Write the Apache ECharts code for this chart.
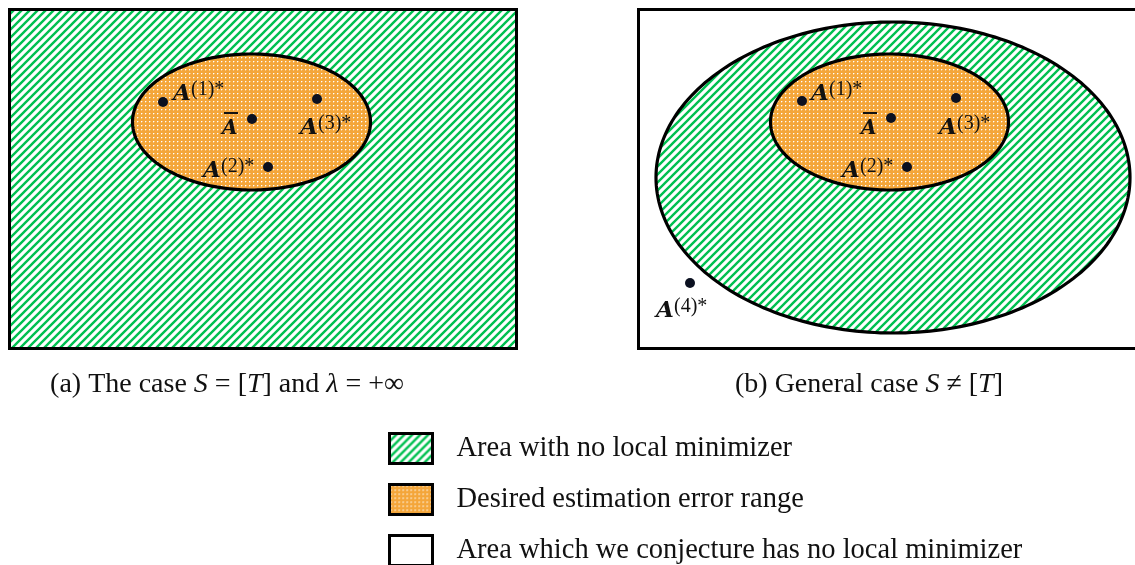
<!DOCTYPE html>
<html><head><meta charset="utf-8">
<script src="https://cdn.jsdelivr.net/npm/echarts@6/dist/echarts.min.js"></script>
<style>html,body{margin:0;padding:0;background:#fff}#c{width:1135px;height:565px}</style>
</head><body><div id="c"></div>
<script>
// ---- data (diagram coordinates, same units as the hidden axes) ----
// rectangles: [x0, y0, x1, y1]
const hatchBoxes = [[9.5, 9.5, 516.5, 348.5]];
const whiteBoxes = [[638.5, 9.5, 1142, 348.5]];
// ellipses: [cx, cy, rx, ry]
const hatchEllipses = [[893, 177.5, 237, 155.5]];
const orangeEllipses = [[251.5, 122, 119, 68], [889.5, 122, 119, 68]];
// points
const pointsX = [163, 252, 317, 268, 802, 891, 956, 907, 690];
const pointsY = [102, 119, 99, 167, 101, 118, 98, 167, 283];
// point labels: x (left of A), y (baseline), superscript, has bar
const labelX = [173, 222, 300, 203, 811, 861, 939, 842, 656];
const labelY = [102, 136, 136, 179, 102, 136, 136, 179, 319];
const labelSup = ['(1)*', '', '(3)*', '(2)*', '(1)*', '', '(3)*', '(2)*', '(4)*'];
const labelBar = [false, true, false, false, false, true, false, false, false];
// captions
const captionText = ['(a) The case {i|S} = [{i|T}] and {i|λ} = +∞', '(b) General case {i|S} ≠ [{i|T}]'];
const captionX = [227, 869];
const captionY = [393, 393];
// legend
const legendNames = ['Area with no local minimizer', 'Desired estimation error range', 'Area which we conjecture has no local minimizer'];

// ---- patterns ----
function makeHatch() {
  const c = document.createElement('canvas'); c.width = 8; c.height = 8;
  const g = c.getContext('2d');
  g.fillStyle = '#ffffff'; g.fillRect(0, 0, 8, 8);
  g.strokeStyle = '#00C050'; g.lineWidth = 2.4;
  g.beginPath();
  g.moveTo(-2, 2); g.lineTo(2, -2);
  g.moveTo(-1, 9); g.lineTo(9, -1);
  g.moveTo(6, 10); g.lineTo(10, 6);
  g.stroke();
  return c;
}
function makeDots() {
  const c = document.createElement('canvas'); c.width = 4; c.height = 4;
  const g = c.getContext('2d');
  g.fillStyle = '#F4A63A'; g.fillRect(0, 0, 4, 4);
  g.fillStyle = '#ffffff'; g.fillRect(1, 1, 1, 1);
  g.fillStyle = 'rgba(255,255,255,0.35)'; g.fillRect(2, 1, 1, 1); g.fillRect(1, 2, 1, 1);
  return c;
}
const hatchFill = { image: makeHatch(), repeat: 'repeat' };
const dotFill = { image: makeDots(), repeat: 'repeat' };

const SERIF = '"Liberation Serif", "DejaVu Serif", serif';
const MATH = '"DejaVu Serif", "Liberation Serif", serif';

function ellipsePoints(c, s) {
  const pts = [];
  for (let i = 0; i < 240; i++) {
    const t = i / 240 * Math.PI * 2;
    pts.push([c[0] + s[0] * Math.cos(t), c[1] + s[1] * Math.sin(t)]);
  }
  return pts;
}
function rectItem(fill) {
  return function (params, api) {
    const p0 = api.coord([api.value(0), api.value(1)]);
    const p1 = api.coord([api.value(2), api.value(3)]);
    return { type: 'rect', shape: { x: p0[0], y: p0[1], width: p1[0] - p0[0], height: p1[1] - p0[1] },
      style: { fill: fill, stroke: '#000', lineWidth: 3 } };
  };
}
function ellipseItem(fill) {
  return function (params, api) {
    const c = api.coord([api.value(0), api.value(1)]);
    const s = api.size([api.value(2), api.value(3)]);
    return { type: 'polygon', shape: { points: ellipsePoints(c, s) },
      style: { fill: fill, stroke: '#000', lineWidth: 3.2 } };
  };
}
function labelItem(params, api) {
  const i = params.dataIndex;
  const p = api.coord([api.value(0), api.value(1)]);
  const bar = labelBar[i];
  const fs = bar ? 20 : 23;
  const children = [{
    type: 'text', x: p[0], y: p[1] - 0.36 * fs,
    style: { text: 'A', font: 'italic bold ' + fs + 'px ' + MATH, fill: '#111', align: 'left', verticalAlign: 'middle', textAlign: 'left', textVerticalAlign: 'middle' }
  }];
  if (labelSup[i]) {
    children.push({
      type: 'text', x: p[0] + 18, y: p[1] - 6 - 0.31 * 20,
      style: { text: labelSup[i], font: '20px ' + SERIF, fill: '#111', align: 'left', verticalAlign: 'middle', textAlign: 'left', textVerticalAlign: 'middle' }
    });
  }
  if (bar) {
    children.push({ type: 'line', shape: { x1: p[0] + 2, y1: p[1] - 23, x2: p[0] + 16, y2: p[1] - 23 }, style: { stroke: '#111', lineWidth: 2 } });
  }
  return { type: 'group', children: children };
}

const chart = echarts.init(document.getElementById('c'), null, { renderer: 'canvas' });
chart.setOption({
  animation: false,
  backgroundColor: '#ffffff',
  grid: { left: 0, right: 0, top: 0, bottom: 0 },
  xAxis: { type: 'value', min: 0, max: 1135, show: false },
  yAxis: { type: 'value', min: 0, max: 565, inverse: true, show: false },
  legend: {
    orient: 'vertical', left: 383, top: 427, height: 220, itemWidth: 43, itemHeight: 30, itemGap: 18,
    icon: 'rect', selectedMode: false,
    textStyle: { fontFamily: SERIF, fontSize: 28.5, color: '#111', padding: [0, 0, 0, 19] },
    data: [
      { name: legendNames[0], itemStyle: { color: hatchFill, borderColor: '#000', borderWidth: 3 } },
      { name: legendNames[1], itemStyle: { color: dotFill, borderColor: '#000', borderWidth: 3 } },
      { name: legendNames[2], itemStyle: { color: '#fff', borderColor: '#000', borderWidth: 3 } }
    ]
  },
  graphic: captionText.map((t, i) => ({
    type: 'text', x: captionX[i], y: captionY[i] - 0.31 * 28,
    style: { text: t, font: '28px ' + SERIF, fill: '#111', align: 'center', verticalAlign: 'middle', textAlign: 'center', textVerticalAlign: 'middle',
      rich: { i: { fontStyle: 'italic', fontFamily: SERIF, fontSize: 28 } } }
  })),
  series: [
    { name: legendNames[2], type: 'custom', clip: false, itemStyle: { color: '#fff' }, renderItem: rectItem('#fff'), data: whiteBoxes, z: 1 },
    { name: legendNames[0], type: 'custom', clip: false, itemStyle: { color: hatchFill }, renderItem: rectItem(hatchFill), data: hatchBoxes, z: 2 },
    { name: legendNames[0], type: 'custom', clip: false, itemStyle: { color: hatchFill }, renderItem: ellipseItem(hatchFill), data: hatchEllipses, z: 3 },
    { name: legendNames[1], type: 'custom', clip: false, itemStyle: { color: dotFill }, renderItem: ellipseItem(dotFill), data: orangeEllipses, z: 4 },
    { name: 'points', type: 'scatter', symbol: 'circle', symbolSize: 10, itemStyle: { color: '#0b1020', opacity: 1 },
      data: pointsX.map((x, i) => [x, pointsY[i]]), z: 5 },
    { name: 'labels', type: 'custom', clip: false, renderItem: labelItem, data: labelX.map((x, i) => [x, labelY[i]]), z: 6 }
  ]
});
</script></body></html>
